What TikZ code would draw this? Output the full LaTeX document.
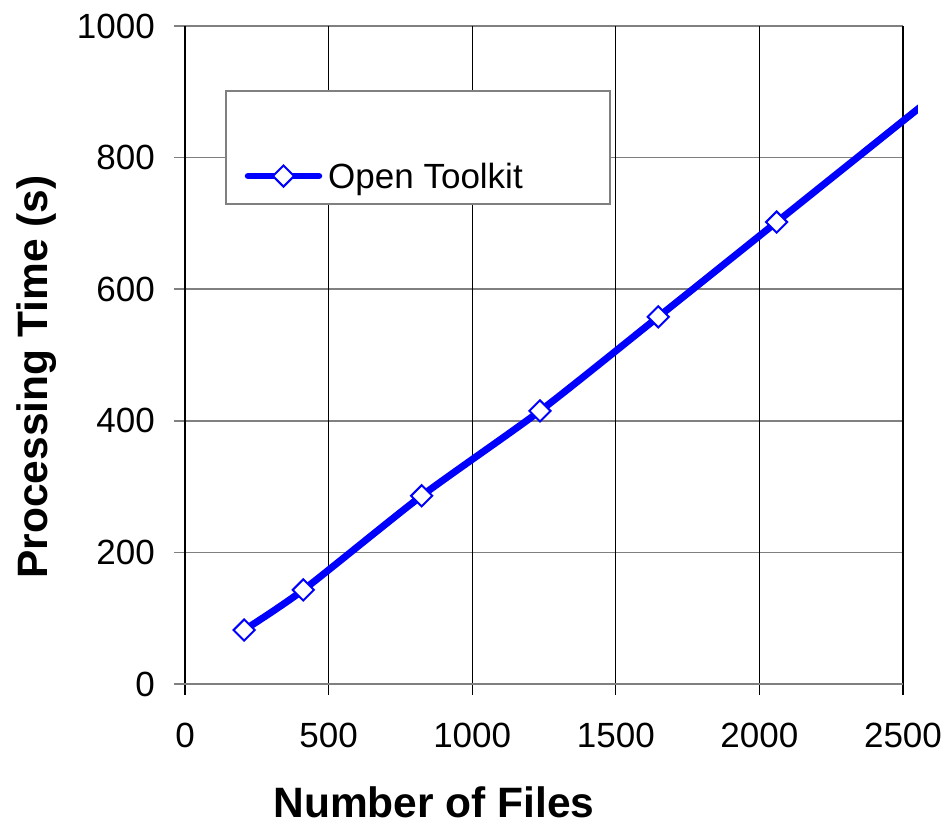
\documentclass[tikz,border=0pt]{standalone}
\usepackage{fontspec}
\setmainfont{Liberation Sans}
\usetikzlibrary{shapes.geometric}
\definecolor{seriesblue}{RGB}{0,0,255}
\definecolor{gridgray}{RGB}{128,128,128}
\tikzset{
  hgrid/.style={draw=gridgray, line width=1.5pt},
  vgrid/.style={draw=black, line width=1.2pt},
  series/.style={draw=seriesblue, line width=7pt, line join=round},
  marker/.style={diamond, draw=seriesblue, fill=white, line width=2pt,
    minimum width=22pt, minimum height=22pt, inner sep=0pt},
  ticklabel/.style={font=\fontsize{35}{40}\selectfont, inner sep=0pt},
  axistitle/.style={font=\bfseries\fontsize{42.5}{50}\selectfont, inner sep=0pt},
}
\begin{document}
\begin{tikzpicture}[x=1pt, y=-1pt]
\useasboundingbox (0,0) rectangle (948,825);

% horizontal grid lines (gray) with short ticks left of the axis
\foreach \k in {0,...,5} {
  \draw[hgrid] (174,{684-131.6*\k}) -- (903,{684-131.6*\k});
}
% vertical grid lines (black), extending below the axis as ticks
\foreach \k in {0,...,5} {
  \draw[vgrid] ({185+143.6*\k},26) -- ({185+143.6*\k},695);
}
% x axis drawn over the verticals
\draw[hgrid] (174,684) -- (903,684);

% y tick labels
\foreach \k/\v in {0/0,1/200,2/400,3/600,4/800,5/1000} {
  \node[ticklabel, anchor=east] (yl\k) at (155,{684-131.6*\k}) {\v};
}
% x tick labels
\foreach \k/\v in {0/0,1/500,2/1000,3/1500,4/2000,5/2500} {
  \node[ticklabel] (xl\k) at ({185+143.6*\k},735) {\v};
}

% axis titles
\node[axistitle, anchor=base] (xtitle) at (434,817) {Number of Files};
\node[axistitle, anchor=base, rotate=90] (ytitle) at (47,377) {Processing Time (s)};

% data series in data coordinates (origin at the axes' corner, y upward)
\begin{scope}[shift={(185,684)}, x=0.2872pt, y=0.658pt]
  \begin{scope}
    \clip (-700,-100) rectangle (2552,1100);
    \draw[series] plot[smooth, tension=0.4] coordinates
      {(206,82) (412,143) (824,286) (1236,415) (1648,558) (2060,702) (2472,846) (2884,990)};
  \end{scope}
  \foreach \n/\px/\py in {p1/206/82, p2/412/143, p3/824/286, p4/1236/415, p5/1648/558, p6/2060/702} {
    \node[marker] (\n) at (\px,\py) {};
  }
\end{scope}

% legend
\draw[draw=gridgray, fill=white, line width=1.5pt] (226,91) rectangle (610,204);
\coordinate (legA) at (248,176);
\coordinate (legB) at (319,176);
\draw[series, line width=6.5pt, line cap=round] (legA) -- (legB);
\node[marker] (legmark) at (283.5,176) {};
\node[ticklabel, anchor=base west] (legtext) at (328,188) {Open Toolkit};
\end{tikzpicture}
\end{document}
